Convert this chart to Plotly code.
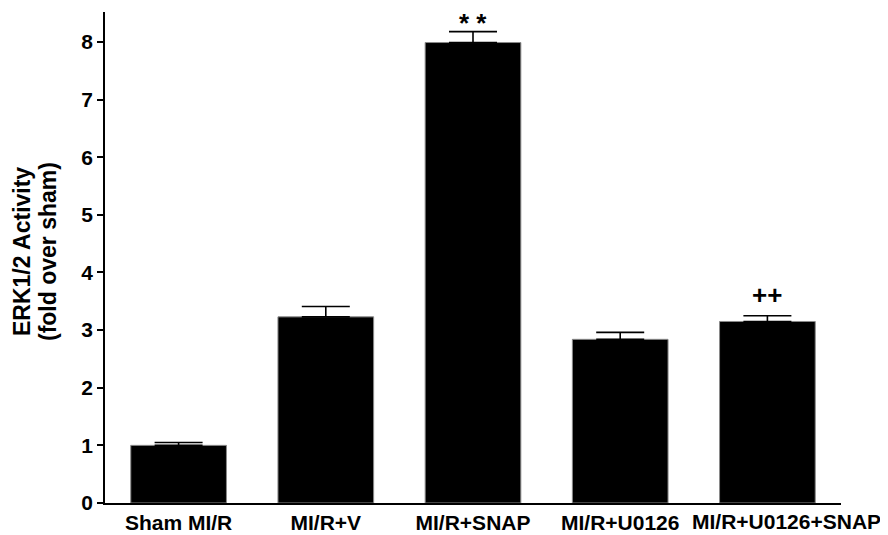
import plotly.graph_objects as go

categories = ["Sham MI/R", "MI/R+V", "MI/R+SNAP", "MI/R+U0126", "MI/R+U0126+SNAP"]
values = [1.00, 3.23, 7.99, 2.84, 3.15]
errors = [0.05, 0.18, 0.19, 0.12, 0.10]
marks = ["", "", "* *", "", "++"]
y_ticks = [0, 1, 2, 3, 4, 5, 6, 7, 8]
y_title = ["ERK1/2 Activity", "(fold over sham)"]

FONT = "Liberation Sans, Arial, sans-serif"

# the page body has an 8px default margin; compensate so the plot area
# sits at x 105..841, y 12..503 in the 888x535 window
OFF = 8
W, H = 888 - OFF, 535 - OFF
ML, MR, MT, MB = 105 - OFF, 47, 12 - OFF, 32
PW, PH = W - ML - MR, H - MT - MB

fig = go.Figure()
fig.add_trace(go.Bar(
    x=categories, y=values,
    marker=dict(color="black", line=dict(color="#8a8a8a", width=1)),
    error_y=dict(type="data", array=errors, symmetric=False, arrayminus=[0]*len(errors),
                 color="black", thickness=1.6, width=24),
    width=0.65,
    cliponaxis=False,
))

for c, v, e, m in zip(categories, values, errors, marks):
    if m:
        fig.add_annotation(x=c, y=v + e, text="<b>%s</b>" % m, showarrow=False,
                           yanchor="bottom", yshift=-8 if "*" in m else 4,
                           font=dict(family=FONT, size=26 if "*" in m else 26, color="black"))

# last category label sits shifted right in the reference to avoid overlap
fig.add_annotation(x=categories[-1], y=0, yref="y", text="<b>%s</b>" % categories[-1],
                   showarrow=False, xanchor="center", yanchor="top", xshift=19, yshift=-5,
                   font=dict(family=FONT, size=21, color="black"))

# two-line y-axis title
for i, line in enumerate(y_title):
    px = 22 + 26 * i
    fig.add_annotation(xref="paper", yref="paper",
                       x=(px - 105) / PW, y=(503 - 252) / PH,
                       text="<b>%s</b>" % line, textangle=-90, showarrow=False,
                       xanchor="center", yanchor="middle",
                       font=dict(family=FONT, size=23, color="black"))

fig.update_layout(
    width=W, height=H,
    margin=dict(l=ML, r=MR, t=MT, b=MB, pad=0),
    plot_bgcolor="white", paper_bgcolor="white",
    showlegend=False,
    font=dict(family=FONT, color="black"),
    xaxis=dict(
        range=[-0.5, 4.5], showline=True, linecolor="black", linewidth=1.5,
        ticks="", showgrid=False, zeroline=False, automargin=False,
        tickvals=categories, ticktext=categories[:-1] + [""],
        tickfont=dict(family=FONT, size=21, color="black", weight="bold"),
    ),
    yaxis=dict(
        range=[0, 8.52], showline=True, linecolor="black", linewidth=1.5,
        ticks="outside", ticklen=6, tickwidth=1.5, tickcolor="black",
        tickvals=y_ticks, showgrid=False, zeroline=False, automargin=False,
        tickfont=dict(family=FONT, size=21, color="black", weight="bold"),
    ),
)

fig.write_html("out.html")
